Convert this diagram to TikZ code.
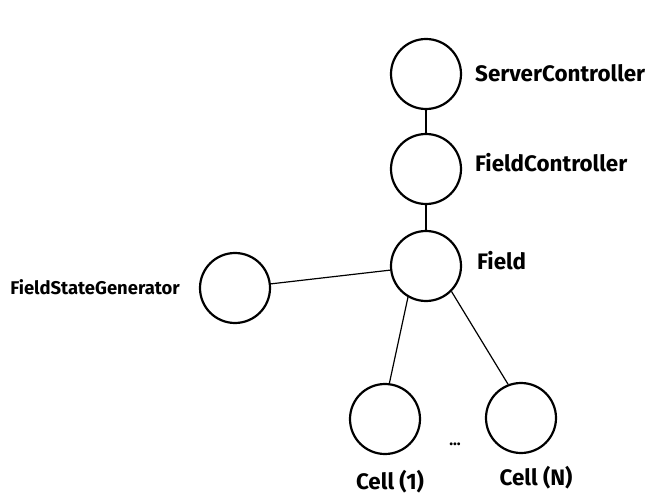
\documentclass[tikz,border=0pt]{standalone}
\usepackage{fontspec}
\setmainfont{Fira Sans}
\usepackage{tikz}
\usetikzlibrary{positioning, calc}

\begin{document}
\begin{tikzpicture}[
    x=1bp, y=-1bp,
    blob/.style={circle, draw=black, line width=2.2bp, minimum size=70bp, inner sep=0pt},
    lbl/.style={anchor=west, font=\fontsize{22.5}{26}\selectfont\bfseries, inner sep=0pt},
    link/.style={line width=1.2bp}
]
\useasboundingbox (0,0) rectangle (654,504);

% Circles
\node[blob] (sc) at (426,74) {};
\node[blob] (fc) at (426,169) {};
\node[blob] (fd) at (426,266) {};
\node[blob] (gen) at (235,288) {};
\node[blob] (c1) at (385,419) {};
\node[blob] (cn) at (521,418) {};

% Labels
\node[lbl] at (475,73) {ServerController};
\node[lbl] at (475,163) {FieldController};
\node[lbl] at (477,261) {Field};
\node[lbl, anchor=east, font=\fontsize{18.5}{22}\selectfont\bfseries] at (180,287) {FieldStateGenerator};
\node[lbl, anchor=center] at (390,482) {Cell (1)};
\node[lbl, anchor=center] at (536,478) {Cell (N)};
\node[font=\fontsize{16}{18}\selectfont\bfseries] (dots) at (455,444) {...};

% Links
\draw[link] (sc) -- (fc);
\draw[link] (fc) -- (fd);
\draw[link] (gen) -- (fd);
\draw[link] (fd.240) -- (c1.83);
\draw[link] (fd.315) -- (cn.111);

\end{tikzpicture}
\end{document}
